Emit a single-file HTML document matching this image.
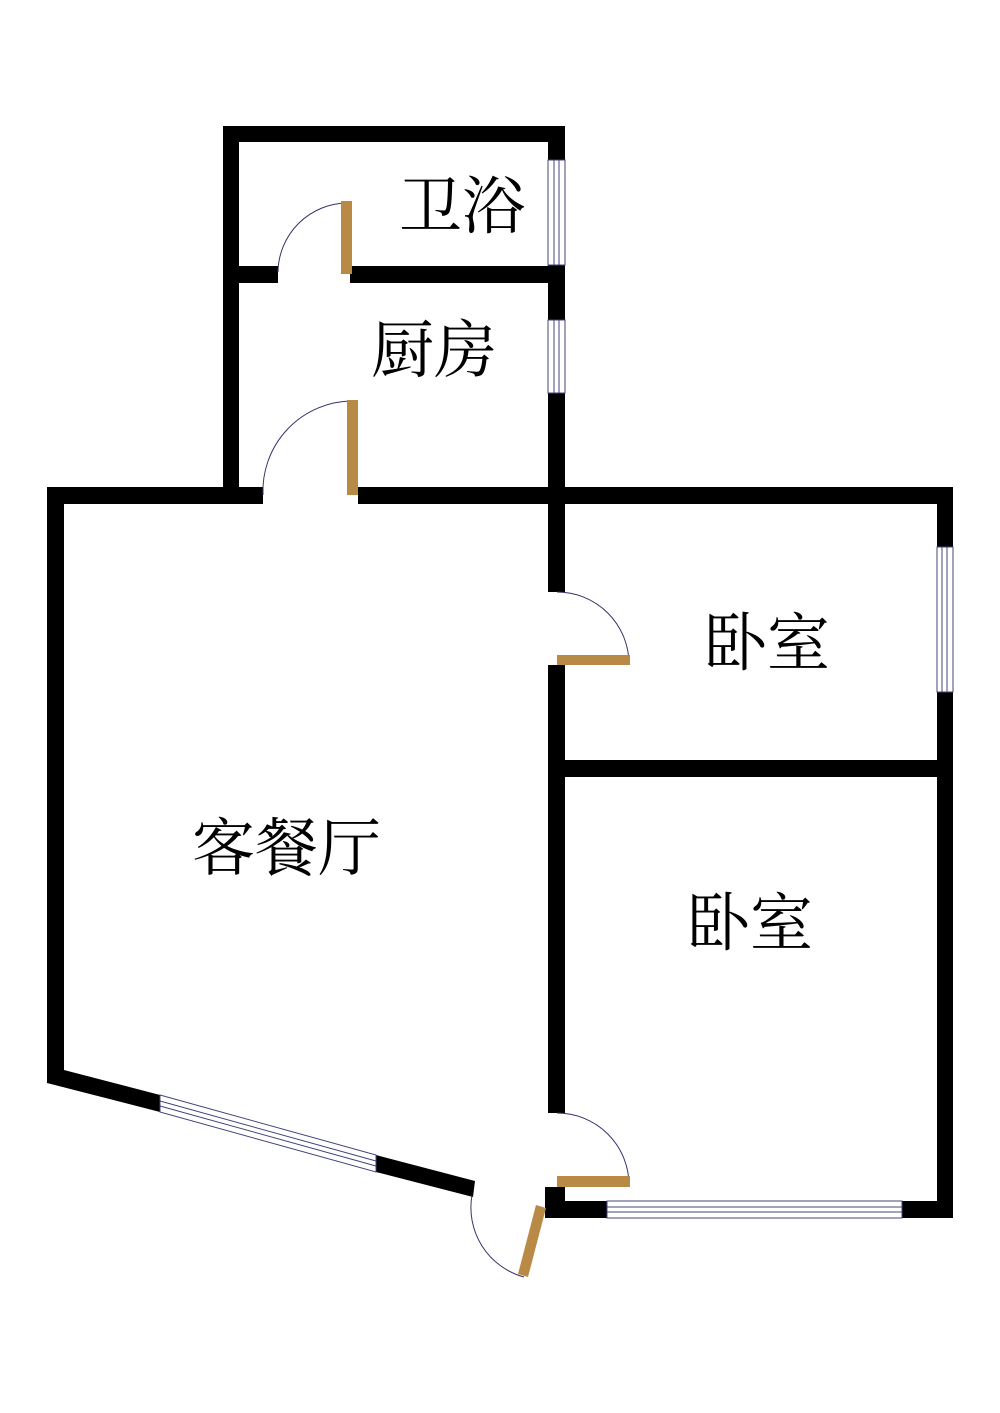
<!DOCTYPE html>
<html><head><meta charset="utf-8"><style>html,body{margin:0;padding:0;background:#fff}svg{display:block}</style></head>
<body>
<svg width="1000" height="1413" viewBox="0 0 1000 1413" xmlns="http://www.w3.org/2000/svg">
<rect width="1000" height="1413" fill="#fff"/>
<g fill="#000">
<!-- top block -->
<rect x="223" y="126" width="342" height="16"/>
<rect x="223" y="126" width="16" height="378"/>
<rect x="548" y="126" width="17" height="34"/>
<rect x="548" y="265" width="17" height="55"/>
<rect x="548" y="393" width="17" height="199"/>
<rect x="239" y="266" width="39" height="17"/>
<rect x="350" y="266" width="215" height="17"/>
<!-- main top wall -->
<rect x="47" y="487" width="216" height="17"/>
<rect x="358" y="487" width="595" height="17"/>
<!-- left wall -->
<rect x="47" y="487" width="17" height="590"/>
<!-- middle wall -->
<rect x="548" y="665" width="17" height="448"/>
<rect x="545" y="1187" width="20" height="31"/>
<!-- right wall -->
<rect x="937" y="487" width="16" height="60"/>
<rect x="937" y="692" width="16" height="526"/>
<rect x="565" y="760" width="388" height="17"/>
<!-- bottom wall -->
<rect x="545" y="1201" width="62" height="17"/>
<rect x="902" y="1201" width="51" height="17"/>
<!-- slanted wall -->
<polygon points="47,1070 64,1070 160,1095 160,1112 47,1083"/>
<polygon points="376,1155 475,1181 473,1197 376,1172"/>
</g>
<!-- windows -->
<g fill="#fff" stroke="#44447a" stroke-width="1">
<rect x="548" y="160" width="17" height="105"/>
<rect x="548" y="320" width="17" height="73"/>
<rect x="937" y="547" width="16" height="145"/>
<rect x="607" y="1201" width="295" height="17"/>
</g>
<g stroke="#44447a" stroke-width="1">
<line x1="554" y1="160" x2="554" y2="265"/><line x1="559" y1="160" x2="559" y2="265"/>
<line x1="554" y1="320" x2="554" y2="393"/><line x1="559" y1="320" x2="559" y2="393"/>
<line x1="942" y1="547" x2="942" y2="692"/><line x1="947" y1="547" x2="947" y2="692"/>
<line x1="607" y1="1207" x2="902" y2="1207"/><line x1="607" y1="1212" x2="902" y2="1212"/>
<polygon points="160,1095 376,1155 376,1172 160,1112" fill="#fff"/>
<line x1="160" y1="1101" x2="376" y2="1161"/>
<line x1="160" y1="1106" x2="376" y2="1166"/>
</g>
<!-- door arcs -->
<g fill="none" stroke="#33336a" stroke-width="1">
<path d="M347,203 A70,70 0 0 0 278,272"/>
<path d="M352,401 A90,90 0 0 0 263,495"/>
<path d="M557,592 A72,72 0 0 1 629,664"/>
<path d="M557,1113 A72,72 0 0 1 629,1185"/>
<path d="M472,1195 A72,72 0 0 0 524,1277"/>
</g>
<!-- door leaves -->
<g fill="#b98a45">
<rect x="341" y="201" width="11" height="73"/>
<rect x="347" y="400" width="11" height="95"/>
<rect x="557" y="655" width="73" height="10"/>
<rect x="557" y="1176" width="73" height="11"/>
<polygon points="536,1205 546,1208 528,1277 518,1274"/>
</g>
<g font-family="'Liberation Serif','Noto Serif CJK SC',serif" font-size="63" fill="#000">
<text x="399" y="228">卫浴</text>
<text x="371" y="372">厨房</text>
<text x="704" y="665">卧室</text>
<text x="192" y="870">客餐厅</text>
<text x="687" y="945">卧室</text>
</g>
</svg>
</body></html>
